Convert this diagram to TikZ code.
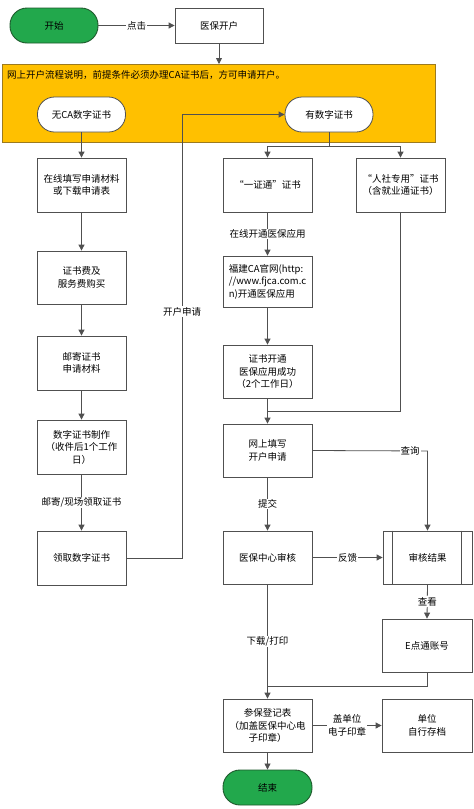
\documentclass[tikz,border=0pt]{standalone}
\usepackage{fontspec}
\setmainfont{Noto Sans CJK SC}
\usetikzlibrary{arrows.meta,calc}
\definecolor{ln}{HTML}{505050}
\definecolor{gfill}{HTML}{22A84C}
\definecolor{gline}{HTML}{1E5A2C}
\definecolor{yfill}{HTML}{FFC000}
\definecolor{yline}{HTML}{9C7A1E}
\begin{document}
\begin{tikzpicture}[x=1pt,y=-1pt,
  font=\fontsize{9.5}{12.5}\selectfont,
  box/.style={draw=ln, line width=0.8pt, fill=white, minimum width=89pt, minimum height=54pt, align=center, inner sep=1pt},
  term/.style={draw=gline, line width=0.9pt, fill=gfill, rounded corners=17pt, minimum width=88pt, minimum height=35pt},
  oval/.style={draw=ln, line width=0.8pt, fill=white, rounded corners=17pt, minimum width=88pt, minimum height=35pt},
  panel/.style={draw=yline, line width=1.4pt, fill=yfill, minimum width=433pt, minimum height=78pt, inner sep=0pt},
  conn/.style={draw=ln, line width=0.8pt},
  arr/.style={conn, -{Triangle[length=6pt,width=6pt]}},
  lbl/.style={fill=white, inner sep=1pt, align=center}]
\useasboundingbox[fill=white] (0,0) rectangle (474,809);

\node[term] (start) at (54,25.5) {开始};
\node[box, minimum width=88pt, minimum height=35pt] (yb) at (219,25.5) {医保开户};

\node[panel, anchor=north west] (panel) at (2,64) {};
\node[anchor=west, inner sep=0pt] (ptext) at (7,75) {网上开户流程说明，前提条件必须办理CA证书后，方可申请开户。};

\node[oval] (noca) at (81.5,114.5) {无CA数字证书};
\node[oval] (hasca) at (329,114.5) {有数字证书};

\node[box] (b1) at (81.5,185) {在线填写申请材料\\或下载申请表};
\node[box, minimum height=53pt] (b2) at (81.5,277.5) {证书费及\\服务费购买};
\node[box] (b3) at (81.5,363) {邮寄证书\\申请材料};
\node[box] (b4) at (81.5,447) {数字证书制作\\（收件后1个工作\\日）};
\node[box] (b5) at (81.5,558) {领取数字证书};

\node[box] (m1) at (267.5,185) {“一证通”证书};
\node[box, minimum height=51pt, align=left] (m2) at (267.5,281.5) {福建CA官网(http:\\//www.fjca.com.c\\n)开通医保应用};
\node[box, minimum height=53pt] (m3) at (267.5,371.5) {证书开通\\医保应用成功\\（2个工作日）};
\node[box] (r1) at (400.5,185) {“人社专用”证书\\（含就业通证书）};

\node[box, minimum height=53pt] (m4) at (267.5,450.5) {网上填写\\开户申请};
\node[box, minimum height=53pt] (m5) at (267.5,557.5) {医保中心审核};
\node[box, minimum height=53pt] (r2) at (427.5,557.5) {审核结果};
\draw[conn] ($(r2.north west)+(10,0)$) -- ($(r2.south west)+(10,0)$);
\draw[conn] ($(r2.north east)+(-11,0)$) -- ($(r2.south east)+(-11,0)$);
\node[box, minimum width=90pt, minimum height=53pt] (r3) at (427,645.5) {E点通账号};
\node[box, minimum height=53pt] (m6) at (267.5,725.5) {参保登记表\\（加盖医保中心电\\子印章）};
\node[box, minimum width=90pt, minimum height=53pt] (r4) at (427,725.5) {单位\\自行存档};
\node[term, minimum width=89pt] (end) at (267.5,787.5) {结束};

% connectors
\draw[arr] (start.east) -- node[lbl] {点击} (yb.west);
\draw[arr] (yb.south) -- (yb.south |- panel.north);
\draw[arr] (noca.south) -- (b1.north);
\coordinate (sp) at (329,146);
\draw[conn] (hasca.south) -- (sp);
\draw[arr] (sp) -| (m1.north);
\draw[arr] (sp) -| (r1.north);
\draw[arr] (b1.south) -- (b2.north);
\draw[arr] (b2.south) -- (b3.north);
\draw[arr] (b3.south) -- (b4.north);
\draw[arr] (b4.south) -- node[lbl] {邮寄/现场领取证书} (b5.north);
\coordinate (c1) at (182,558);
\coordinate (c2) at (182,114.5);
\draw[arr] (b5.east) -- (c1) -- node[lbl, pos=0.555] {开户申请} (c2) -- (hasca.west);
\draw[arr] (m1.south) -- node[lbl] {在线开通医保应用} (m2.north);
\draw[arr] (m2.south) -- (m3.north);
\draw[arr] (m3.south) -- (m4.north);
\coordinate (j1) at (267.5,411);
\draw[conn] (r1.south) |- (j1);
\coordinate (q1) at (427.5,451);
\draw[arr] (m4.east) -- node[lbl, pos=0.85] {查询} (q1) -- (r2.north);
\draw[arr] (m4.south) -- node[lbl] {提交} (m5.north);
\draw[arr] (m5.east) -- node[lbl] {反馈} (r2.west);
\draw[arr] (r2.south) -- node[lbl] {查看} (r3.north);
\draw[arr] (m5.south) -- node[lbl] {下载/打印} (m6.north);
\coordinate (j2) at (267.5,686);
\draw[conn] (r3.south) |- (j2);
\draw[arr] (m6.east) -- node[lbl] {盖单位\\电子印章} (r4.west);
\draw[arr] (m6.south) -- (end.north);
\end{tikzpicture}
\end{document}
